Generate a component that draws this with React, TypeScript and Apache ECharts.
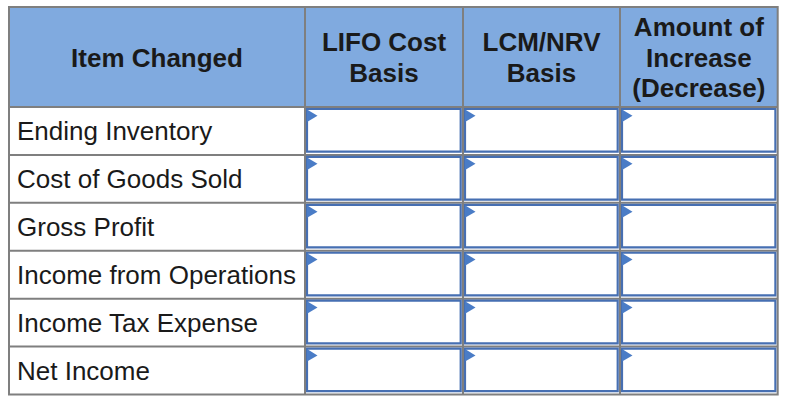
import React, { useEffect, useRef } from "react";
import * as echarts from "echarts";

// Table content
const headers: string[] = ["Item Changed", "LIFO Cost\nBasis", "LCM/NRV\nBasis", "Amount of\nIncrease\n(Decrease)"];
const items: string[] = [
  "Ending Inventory",
  "Cost of Goods Sold",
  "Gross Profit",
  "Income from Operations",
  "Income Tax Expense",
  "Net Income",
];
// Input columns (empty answer boxes)
const lifoValues: string[] = ["", "", "", "", "", ""];
const lcmValues: string[] = ["", "", "", "", "", ""];
const changeValues: string[] = ["", "", "", "", "", ""];

const FONT = "Arial, 'Liberation Sans', Helvetica, sans-serif";

export default function App() {
  const ref = useRef<HTMLDivElement>(null);
  useEffect(() => {
    if (!ref.current) return;
    const chart = echarts.init(ref.current, null, { renderer: "svg" });

    const colEdges = [9, 305, 463, 620, 777.7];
    const top = 7;
    const headerBottom = 107;
    const bottom = 394.5;
    const rowH = (bottom - headerBottom) / items.length;
    const gray = "#7f7f7f";
    const headerBg = "#80AADF";
    const boxBlue = "#466FB2";
    const triBlue = "#4A7CC6";
    const textColor = "#1a1a1a";
    const fontSize = 26;

    const els: any[] = [];
    // header background
    els.push({
      type: "rect",
      shape: { x: colEdges[0], y: top, width: colEdges[4] - colEdges[0], height: headerBottom - top },
      style: { fill: headerBg },
    });
    // header texts
    headers.forEach((h, i) => {
      els.push({
        type: "text",
        x: (colEdges[i] + colEdges[i + 1]) / 2,
        y: (top + headerBottom) / 2 + 0.5,
        style: {
          text: h,
          fill: textColor,
          font: `bold ${fontSize}px ${FONT}`,
          align: "center",
          verticalAlign: "middle",
          lineHeight: 30.5,
        },
      });
    });
    const inputCols = [lifoValues, lcmValues, changeValues];
    items.forEach((it, r) => {
      const y0 = headerBottom + r * rowH;
      const y1 = y0 + rowH;
      els.push({
        type: "text",
        x: 17,
        y: (y0 + y1) / 2 + 0.5,
        style: {
          text: it,
          fill: textColor,
          font: `${fontSize}px ${FONT}`,
          align: "left",
          verticalAlign: "middle",
        },
      });
      inputCols.forEach((col, c) => {
        const x0 = colEdges[c + 1];
        const x1 = colEdges[c + 2];
        els.push({
          type: "rect",
          shape: { x: x0 + 2, y: y0 + 2, width: x1 - x0 - 4.3, height: rowH - 5.3 },
          style: { fill: "#ffffff", stroke: boxBlue, lineWidth: 2.2 },
        });
        els.push({
          type: "polygon",
          shape: {
            points: [
              [x0 + 2, y0 + 2.5],
              [x0 + 12.5, y0 + 8.8],
              [x0 + 2, y0 + 15],
            ],
          },
          style: { fill: triBlue },
        });
        if (col[r]) {
          els.push({
            type: "text",
            x: x1 - 10,
            y: (y0 + y1) / 2,
            style: { text: col[r], font: `${fontSize}px ${FONT}`, fill: textColor, align: "right", verticalAlign: "middle" },
          });
        }
      });
      // row separator
      if (r < items.length - 1) {
        els.push({
          type: "line",
          shape: { x1: colEdges[0], y1: y1, x2: colEdges[4], y2: y1 },
          style: { stroke: gray, lineWidth: 2 },
        });
      }
    });
    // header bottom line
    els.push({
      type: "line",
      shape: { x1: colEdges[0], y1: headerBottom, x2: colEdges[4], y2: headerBottom },
      style: { stroke: gray, lineWidth: 2 },
    });
    // column lines
    for (let i = 1; i < colEdges.length - 1; i++) {
      els.push({
        type: "line",
        shape: { x1: colEdges[i], y1: top, x2: colEdges[i], y2: bottom },
        style: { stroke: gray, lineWidth: 2 },
      });
    }
    // outer border
    els.push({
      type: "rect",
      shape: { x: colEdges[0], y: top, width: colEdges[4] - colEdges[0], height: bottom - top },
      style: { fill: "none", stroke: gray, lineWidth: 2 },
    });

    chart.setOption({
      animation: false,
      backgroundColor: "#ffffff",
      graphic: { elements: els },
    });
    return () => chart.dispose();
  }, []);
  return (
    <div
      ref={ref}
      style={{ position: "fixed", left: 0, top: 0, width: 788, height: 402, background: "#fff" }}
    />
  );
}
